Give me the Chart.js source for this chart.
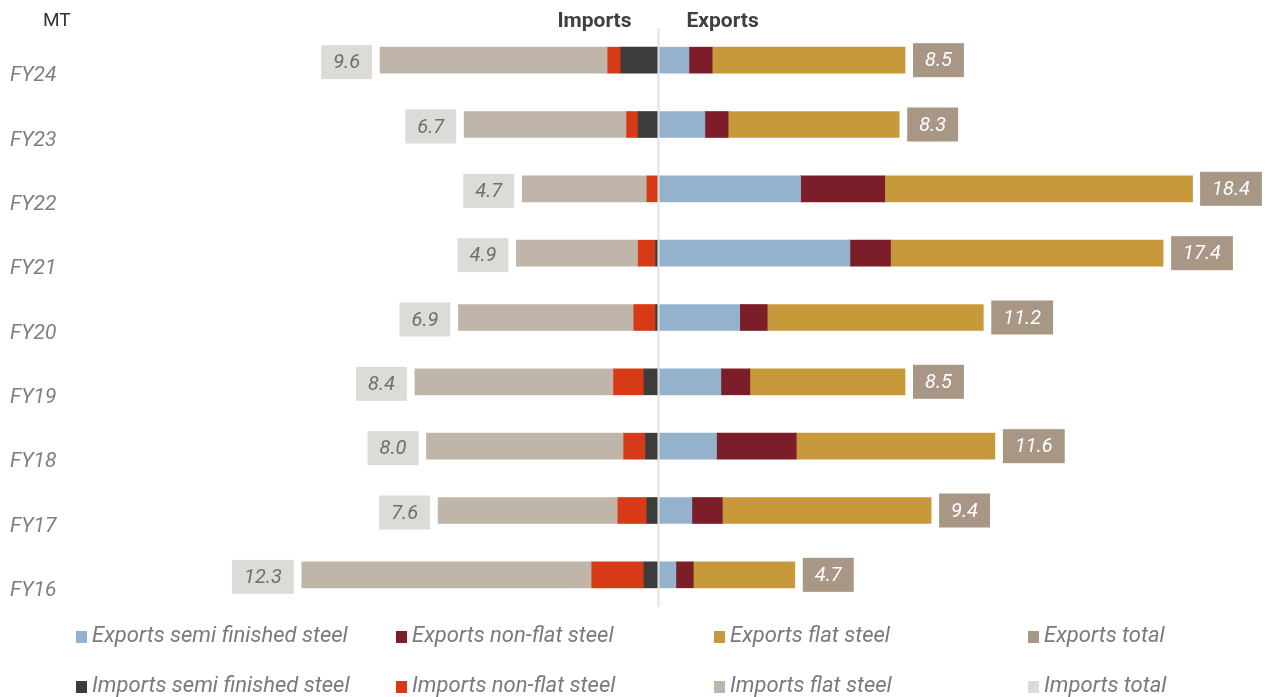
<!DOCTYPE html>
<html>
<head>
<meta charset="utf-8">
<script src="https://cdn.jsdelivr.net/npm/chart.js@4.4.1/dist/chart.umd.min.js"></script>
<style>
	html, body { margin: 0; padding: 0; background: #fff; }
	#wrap { width: 1269px; height: 697px; position: relative; }
</style>
</head>
<body>
<div id="wrap"><canvas id="myChart" width="1269" height="697"></canvas></div>
<script>
const years = ['FY24', 'FY23', 'FY22', 'FY21', 'FY20', 'FY19', 'FY18', 'FY17', 'FY16'];

// exports (MT)
const exportsSemi = [1.05, 1.6, 4.9, 6.6, 2.8, 2.15, 2.0, 1.15, 0.6];
const exportsNonFlat = [0.8, 0.8, 2.9, 1.4, 0.95, 1.0, 2.75, 1.05, 0.6];
const exportsFlat = [6.65, 5.9, 10.6, 9.4, 7.45, 5.35, 6.85, 7.2, 3.5];
const exportsTotal = [8.5, 8.3, 18.4, 17.4, 11.2, 8.5, 11.6, 9.4, 4.7];

// imports (MT), drawn to the left
const importsSemi = [1.3, 0.7, 0, 0.1, 0.1, 0.5, 0.45, 0.4, 0.5];
const importsNonFlat = [0.45, 0.4, 0.4, 0.6, 0.75, 1.05, 0.75, 1.0, 1.8];
const importsFlat = [7.85, 5.6, 4.3, 4.2, 6.05, 6.85, 6.8, 6.2, 10.0];
const importsTotal = [9.6, 6.7, 4.7, 4.9, 6.9, 8.4, 8.0, 7.6, 12.3];

const neg = arr => arr.map(v => -v);
const font = 'Roboto, "Open Sans", sans-serif';

const legendItems = [
	['Exports semi finished steel', '#94b2cc'],
	['Exports non-flat steel', '#7b1e2a'],
	['Exports flat steel', '#c8993a'],
	['Exports total', '#a79784'],
	['Imports semi finished steel', '#3c3c3b'],
	['Imports non-flat steel', '#d63a16'],
	['Imports flat steel', '#bfb5a8'],
	['Imports total', '#dcdbd7']
];

const extras = {
	id: 'extras',
	afterDatasetsDraw(chart) {
		const ctx = chart.ctx;
		const x = chart.scales.x;
		const y = chart.scales.y;
		const area = chart.chartArea;
		const zero = x.getPixelForValue(0);

		ctx.save();
		// centre line
		ctx.strokeStyle = '#e2e2e2';
		ctx.lineWidth = 2;
		ctx.beginPath();
		ctx.moveTo(zero, area.top);
		ctx.lineTo(zero, area.bottom);
		ctx.stroke();

		// totals
		ctx.textBaseline = 'middle';
		years.forEach((yr, i) => {
			const cy = y.getPixelForValue(i);
			ctx.font = 'italic 20px ' + font;
			ctx.textAlign = 'center';
			let txt = exportsTotal[i].toFixed(1);
			let w = ctx.measureText(txt).width + 24;
			let bx = x.getPixelForValue(exportsTotal[i]) + 8;
			ctx.fillStyle = '#a79784';
			ctx.fillRect(bx, cy - 17, w, 34);
			ctx.fillStyle = '#ffffff';
			ctx.fillText(txt, bx + w / 2, cy + 1);

			txt = importsTotal[i].toFixed(1);
			w = ctx.measureText(txt).width + 24;
			bx = x.getPixelForValue(-importsTotal[i]) - 8 - w;
			ctx.fillStyle = '#dcdbd7';
			ctx.fillRect(bx, cy - 15, w, 34);
			ctx.fillStyle = '#6f6f6f';
			ctx.fillText(txt, bx + w / 2, cy + 3);

			// category label
			ctx.textAlign = 'left';
			ctx.fillStyle = '#7f7f7f';
			ctx.font = 'italic 21px ' + font;
			ctx.fillText(yr, 10, cy + 16);
		});

		// headings
		ctx.fillStyle = '#404040';
		ctx.font = 'bold 21px ' + font;
		ctx.textAlign = 'right';
		ctx.fillText('Imports', zero - 27, 22);
		ctx.textAlign = 'left';
		ctx.fillText('Exports', zero + 28, 22);
		ctx.font = '19px ' + font;
		ctx.fillStyle = '#333333';
		ctx.fillText('MT', 43, 21);

		// legend
		const cols = [76, 396, 714, 1028];
		const rows = [636, 686];
		ctx.font = 'italic 22px ' + font;
		legendItems.forEach((it, k) => {
			const lx = cols[k % 4];
			const ly = rows[Math.floor(k / 4)];
			ctx.fillStyle = it[1];
			ctx.fillRect(lx, ly - 5, 11, 12);
			ctx.fillStyle = '#7a7a7a';
			ctx.fillText(it[0], lx + 16, ly);
		});
		ctx.restore();
	}
};

const ctx = document.getElementById('myChart');
const myChart = new Chart(ctx, {
	type: 'bar',
	data: {
		labels: years,
		datasets: [
			{ label: 'Exports semi finished steel', data: exportsSemi, backgroundColor: '#94b2cc' },
			{ label: 'Exports non-flat steel', data: exportsNonFlat, backgroundColor: '#7b1e2a' },
			{ label: 'Exports flat steel', data: exportsFlat, backgroundColor: '#c8993a' },
			{ label: 'Imports semi finished steel', data: neg(importsSemi), backgroundColor: '#3c3c3b' },
			{ label: 'Imports non-flat steel', data: neg(importsNonFlat), backgroundColor: '#d63a16' },
			{ label: 'Imports flat steel', data: neg(importsFlat), backgroundColor: '#bfb5a8' }
		]
	},
	options: {
		indexAxis: 'y',
		responsive: false,
		animation: false,
		datasets: { bar: { barThickness: 26, borderWidth: 0 } },
		layout: { padding: { left: 93, right: 16, top: 28, bottom: 90 } },
		scales: {
			x: { stacked: true, min: -19.5, max: 20.5, display: false },
			y: { stacked: true, display: false }
		},
		plugins: {
			legend: { display: false },
			tooltip: { enabled: false }
		}
	},
	plugins: [extras]
});
</script>
</body>
</html>
